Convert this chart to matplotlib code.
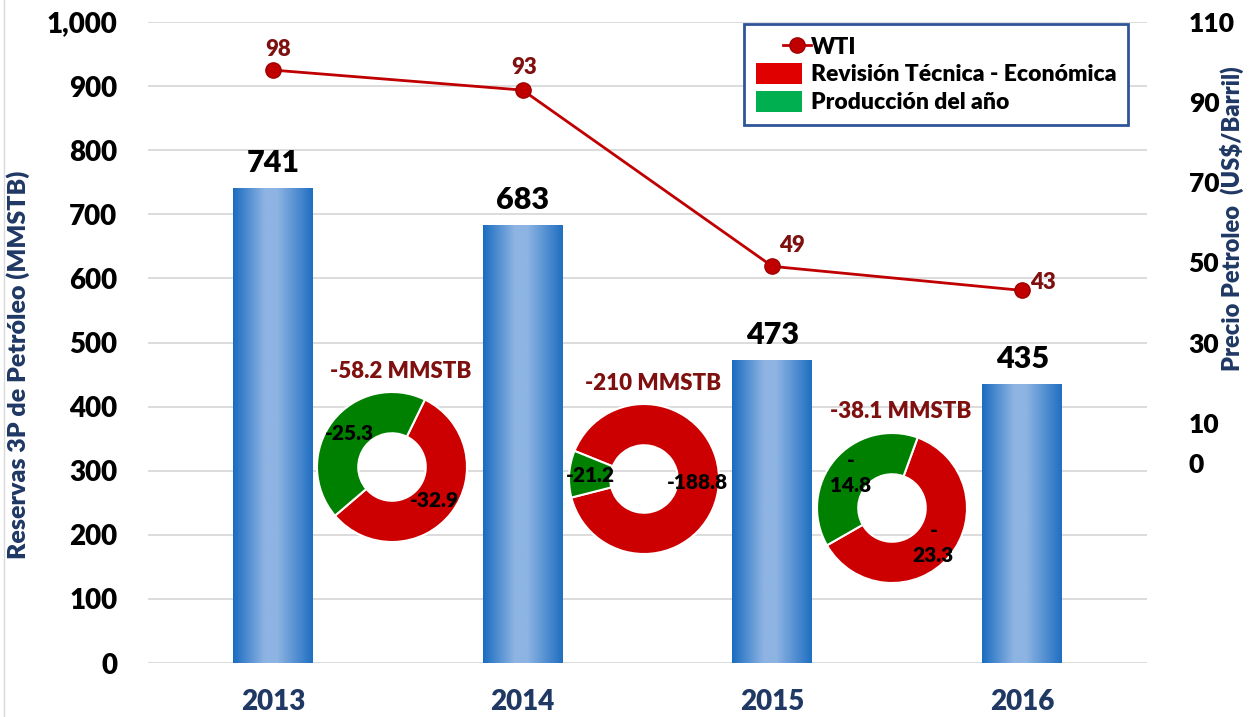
import numpy as np
import matplotlib
matplotlib.use('Agg')
import matplotlib.pyplot as plt
from matplotlib.colors import LinearSegmentedColormap
from matplotlib.legend_handler import HandlerLine2D
from matplotlib.lines import Line2D
from matplotlib.patches import Patch
from matplotlib.ticker import FuncFormatter, FixedLocator

plt.rcParams['font.family'] = ['Lato', 'DejaVu Sans']
plt.rcParams['font.weight'] = 'heavy'

years = ['2013', '2014', '2015', '2016']
reservas = [741, 683, 473, 435]      # MMSTB
wti = [98, 93, 49, 43]               # US$/Barril

# donuts between years: revision tecnica-economica and produccion del anio
revision = [32.9, 188.8, 23.3]
produccion = [25.3, 21.2, 14.8]
totales = [58.2, 210, 38.1]

W, H = 1250, 717
navy = '#1F3864'
red_wti = '#C00000'
dark_red = '#7F1010'

fig = plt.figure(figsize=(W / 100, H / 100), dpi=100)
ax = fig.add_axes([148 / W, 54 / H, 999 / W, 641 / H])
ax2 = ax.twinx()

x = np.arange(len(years))

# bars with horizontal gradient
grad = np.interp(np.linspace(0, 1, 200), [0, 0.4, 0.55, 1], [0, 1, 1, 0.05])
cmap = LinearSegmentedColormap.from_list('barras', ['#1A6CC0', '#8EB4E3'])
bars = ax.bar(x, reservas, width=0.32, color='none', zorder=2)
for b in bars:
    im = ax.imshow(grad[np.newaxis, :], cmap=cmap, aspect='auto', zorder=2,
                   extent=[b.get_x(), b.get_x() + b.get_width(), 0, b.get_height()])
    im.set_clip_path(b)
ax.bar_label(bars, labels=[str(v) for v in reservas], padding=8,
             fontsize=22, color='black')

ax.set_xlim(-0.5, 3.5)
ax.set_ylim(0, 1000)
ax.set_yticks(np.arange(0, 1001, 100))
ax.yaxis.set_major_formatter(FuncFormatter(lambda v, p: f'{v:,.0f}'))
ax.set_xticks(x)
ax.set_xticklabels(years, color=navy, fontsize=20)
ax.tick_params(axis='y', length=0, labelsize=20, pad=22)
ax.tick_params(axis='x', length=0, pad=19)
ax.grid(axis='y', color='#D9D9D9', lw=1.3)
ax.set_axisbelow(True)

# WTI line on right axis
ax2.plot(x, wti, color=red_wti, lw=2, marker='o', ms=11,
         mfc=red_wti, mec='#A00000', zorder=3)
offsets = [(4, 15), (1, 16), (14, 15), (15, 6)]
for xi, v, off in zip(x, wti, offsets):
    ax2.annotate(str(v), (xi, v), xytext=off, textcoords='offset points',
                 ha='center', va='center', fontsize=16, color=dark_red)
ax2.set_ylim(-50, 110)
ax2.yaxis.set_major_locator(FixedLocator([0, 10, 30, 50, 70, 90, 110]))
ax2.tick_params(axis='y', length=0, labelsize=19, pad=30)

for a in (ax, ax2):
    for s in a.spines.values():
        s.set_visible(False)

fig.text(18 / W, 1 - 365 / H, 'Reservas 3P de Petróleo (MMSTB)', rotation=90,
         ha='center', va='center', fontsize=18, color=navy)
fig.text(1232 / W, 1 - 219 / H, 'Precio Petroleo  (US$/Barril)', rotation=90,
         ha='center', va='center', fontsize=17, color=navy)

# donuts
centers = [(392, 467), (644, 479), (892, 508)]
start = [26, 292, 20]          # where the red slice starts, clockwise from top
wrap = [False, False, True]
for i in range(len(totales)):
    cx, cy = centers[i]
    ad = fig.add_axes([(cx - 75) / W, (H - cy - 75) / H, 150 / W, 150 / H])
    wedges, _ = ad.pie([revision[i], produccion[i]], colors=['#CC0000', '#008000'],
                       startangle=90 - start[i], counterclock=False, radius=1,
                       wedgeprops=dict(width=0.55, edgecolor='white', linewidth=1.5))
    for w, v in zip(wedges, [revision[i], produccion[i]]):
        ang = np.deg2rad((w.theta1 + w.theta2) / 2)
        txt = f'-\n{v}' if wrap[i] else f'-{v}'
        ad.text(0.72 * np.cos(ang), 0.72 * np.sin(ang), txt, ha='center',
                va='center', fontsize=15, color='black', linespacing=1.35)
    ad.set_xlim(-1, 1)
    ad.set_ylim(-1, 1)
    ad.axis('off')
    ad.text(0.56, 1.14, f'-{totales[i]:g} MMSTB', transform=ad.transAxes,
            ha='center', va='center', fontsize=16, color=dark_red, clip_on=False)


class HandlerWTI(HandlerLine2D):
    def get_xdata(self, legend, xdescent, ydescent, width, height, fontsize):
        xdata = np.array([0.58, 1.2]) * width - xdescent
        return xdata, np.array([0.89 * width]) - xdescent


handles = [Line2D([], [], color=red_wti, lw=2, marker='o', ms=11, mfc=red_wti, mec='#A00000'),
           Patch(fc='#E00000'), Patch(fc='#00B050')]
labels = ['WTI', 'Revisión Técnica - Económica', 'Producción del año']
leg = fig.legend(handles, labels, loc='upper right', bbox_to_anchor=(1128 / W, 1 - 24 / H),
                 fontsize=16.5, frameon=True, fancybox=False, framealpha=1,
                 edgecolor='#2F5597', handlelength=2.0, handleheight=1.0,
                 labelspacing=0.25, handletextpad=0.4, borderpad=0.5,
                 borderaxespad=0, handler_map={Line2D: HandlerWTI()})
leg.get_frame().set_linewidth(2)

fig.add_artist(Line2D([4 / W, 4 / W], [0, 1], transform=fig.transFigure,
                      color='#D9D9D9', lw=1))

fig.savefig('out.png', dpi=100)
